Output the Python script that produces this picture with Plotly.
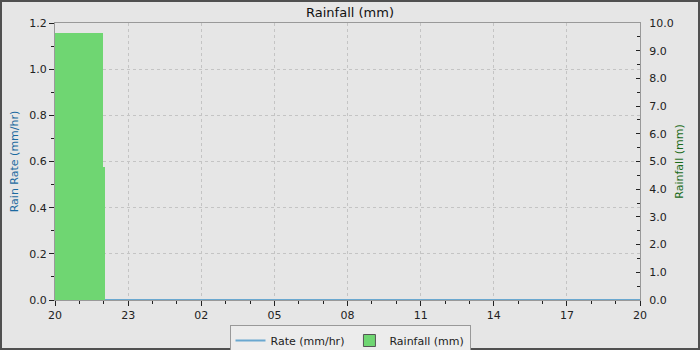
import plotly.graph_objects as go

# ---- data ----
hour_ticks = [0, 3, 6, 9, 12, 15, 18, 21, 24]
hour_labels = ["20", "23", "02", "05", "08", "11", "14", "17", "20"]

rate_hours = [0, 24]
rate_mm_hr = [0.0, 0.0]

rain_start = [0.0, 0.0]
rain_end = [2.06, 1.97]
rain_mm = [4.8, 9.64]

W, H = 700, 350
L, R, T, B = 55, 60, 23, 50
pw, ph = W - L - R, H - T - B

fig = go.Figure()

fig.add_trace(go.Bar(
    x=[(s + e) / 2 for s, e in zip(rain_start, rain_end)],
    y=rain_mm,
    width=[e - s for s, e in zip(rain_start, rain_end)],
    marker=dict(color="#6fd672", line=dict(width=0)),
    name="Rainfall (mm)",
    yaxis="y2",
    showlegend=False,
))
fig.add_trace(go.Bar(
    x=[None], y=[None], name="Rainfall (mm)",
    marker=dict(color="#6fd672", line=dict(color="#555555", width=1)),
    yaxis="y2",
))
fig.add_trace(go.Scatter(
    x=rate_hours, y=rate_mm_hr, mode="lines",
    line=dict(color="#6aa8d0", width=2),
    name="Rate (mm/hr)", cliponaxis=False,
))

font = "DejaVu Sans, sans-serif"
grid_dash = "3px,3px"
fig.update_layout(
    width=W, height=H,
    margin=dict(l=L, r=R, t=T, b=B, autoexpand=False),
    paper_bgcolor="#e6e6e6", plot_bgcolor="#e6e6e6",
    font=dict(family=font, size=11, color="#222222"),
    barmode="overlay", bargap=0,
    title=dict(text="Rainfall (mm)", x=0.5, xref="container", xanchor="center",
               y=1 - 12 / H, yref="container", yanchor="middle",
               font=dict(size=13, color="#111111")),
    showlegend=True,
    legend=dict(orientation="h", x=(350 - L) / pw, xanchor="center",
                y=-(325 - T - ph) / ph, yanchor="top",
                bgcolor="#ececec", bordercolor="#999999", borderwidth=1,
                font=dict(size=11, color="#222222"), traceorder="reversed",
                itemwidth=30),
    xaxis=dict(range=[0, 24], tickvals=hour_ticks, ticktext=hour_labels,
               showline=True, linecolor="#999999", linewidth=1, mirror=True,
               ticks="outside", ticklen=5, tickcolor="#222222",
               showgrid=True, gridcolor="#c4c4c4", griddash=grid_dash, gridwidth=1,
               minor=dict(dtick=1, tick0=0, ticks="outside", ticklen=3, tickcolor="#222222", showgrid=False),
               zeroline=False, fixedrange=True),
    yaxis=dict(range=[0, 1.2], dtick=0.2, tick0=0, tickformat=".1f",
               showline=True, linecolor="#999999", linewidth=1,
               ticks="outside", ticklen=5, tickcolor="#222222",
               showgrid=True, gridcolor="#c4c4c4", griddash=grid_dash, gridwidth=1,
               minor=dict(dtick=0.1, ticks="outside", ticklen=3, tickcolor="#222222", showgrid=False),
               zeroline=False,
               title=dict(text="Rain Rate (mm/hr)", font=dict(size=11, color="#1c6aa0"), standoff=8)),
    yaxis2=dict(range=[0, 10], dtick=1, tick0=0, tickformat=".1f", overlaying="y", side="right",
                showline=True, linecolor="#999999", linewidth=1,
                ticks="inside", ticklen=4, tickcolor="#222222", ticklabelstandoff=6,
                minor=dict(dtick=0.5, ticks="inside", ticklen=3, tickcolor="#222222", showgrid=False),
                showgrid=False, zeroline=False,
                title=dict(text="Rainfall (mm)", font=dict(size=11, color="#1a6b1a"), standoff=2)),
)

# outer border around the whole image
fig.add_shape(type="rect", xref="paper", yref="paper",
              x0=-(L - 1) / pw, x1=1 + (R - 1) / pw,
              y0=-(B - 1) / ph, y1=1 + (T - 1) / ph,
              line=dict(color="#505050", width=2), layer="above")

fig.write_html("out.html")
